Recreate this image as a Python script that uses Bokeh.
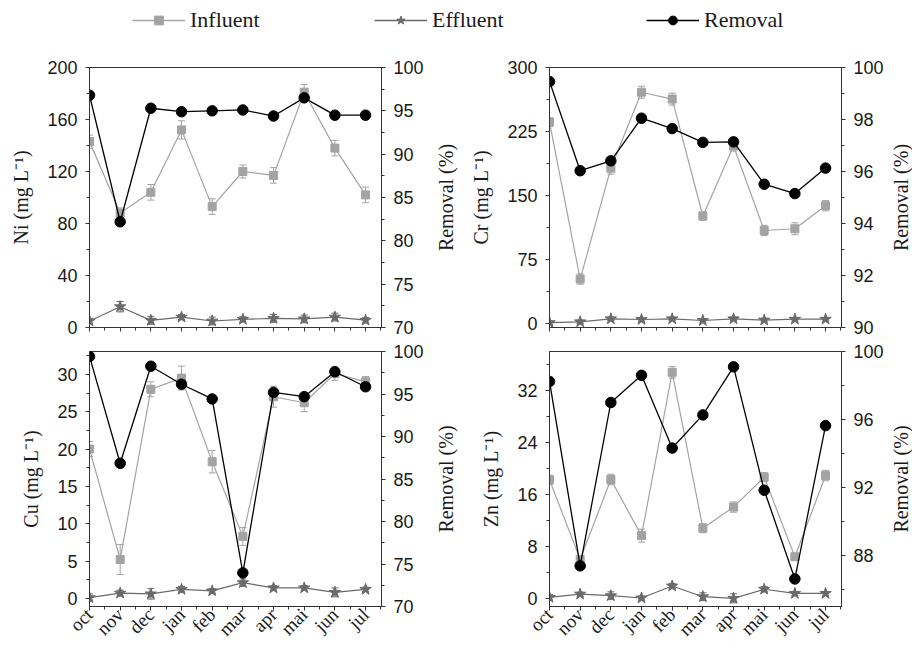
import math
from bokeh.plotting import figure
from bokeh.models import (Range1d, LinearAxis, FixedTicker, ColumnDataSource,
                          Whisker, TeeHead, Legend, LegendItem)
from bokeh.layouts import column, row
from bokeh.embed import file_html
from bokeh.resources import INLINE

# ---------------- data ----------------
months = ["oct", "nov", "dec", "jan", "feb", "mar", "apr", "mai", "jun", "jul"]

ni_inf = [143, 88, 104, 152, 93, 120, 117, 181, 138, 102]
ni_inf_err = [5, 4, 6, 7, 6, 5, 6, 6, 6, 6]
ni_eff = [5, 16, 5.5, 8, 5, 6.3, 7, 6.6, 8, 5.6]
ni_eff_err = [2, 4, 3, 2, 3, 2, 3, 3, 3, 2]
ni_rem = [96.8, 82.2, 95.3, 94.9, 95.0, 95.1, 94.4, 96.5, 94.5, 94.5]

cr_inf = [236, 52, 182, 271, 263, 126, 208, 109, 111, 138]
cr_inf_err = [5, 6, 7, 7, 7, 5, 6, 6, 7, 6]
cr_eff = [1, 2, 5.5, 4.7, 5.5, 3.5, 5.5, 4, 5, 5]
cr_eff_err = [2, 2, 2, 2, 2, 2, 2, 2, 2, 2]
cr_rem = [99.46, 96.03, 96.41, 98.05, 97.65, 97.12, 97.14, 95.51, 95.15, 96.13]

cu_inf = [20.0, 5.2, 28.0, 29.5, 18.3, 8.3, 27.0, 26.2, 30.1, 29.0]
cu_inf_err = [1.0, 2.0, 1.0, 1.6, 1.5, 1.2, 1.4, 1.2, 0.9, 0.7]
cu_eff = [0.1, 0.7, 0.6, 1.2, 1.0, 2.1, 1.4, 1.4, 0.8, 1.2]
cu_eff_err = [0.5, 0.4, 0.7, 0.4, 0.3, 0.5, 0.3, 0.3, 0.6, 0.3]
cu_rem = [99.42, 86.85, 98.27, 96.15, 94.42, 73.96, 95.19, 94.69, 97.62, 95.85]

zn_inf = [18.25, 6.0, 18.3, 9.65, 34.8, 10.8, 14.05, 18.65, 6.4, 18.9]
zn_inf_err = [0.7, 0.5, 0.8, 1.0, 0.9, 0.7, 0.8, 0.7, 0.5, 0.8]
zn_eff = [0.15, 0.65, 0.4, 0.05, 1.9, 0.25, 0.0, 1.4, 0.75, 0.75]
zn_eff_err = [0.4, 0.3, 0.6, 0.3, 0.4, 0.6, 0.7, 0.4, 0.3, 0.3]
zn_rem = [98.24, 87.39, 97.0, 98.6, 94.32, 96.27, 99.1, 91.84, 86.62, 95.64]

# ---------------- style ----------------
INF_C = "#a3a3a3"
EFF_C = "#6a6a6a"
REM_C = "#000000"
AX_C = "#333333"
TXT_C = "#1a1a1a"
SANS = "Liberation Sans"
SERIF = "Liberation Serif"


def style_axis(ax):
    ax.axis_line_color = AX_C
    ax.major_tick_line_color = AX_C
    ax.minor_tick_line_color = AX_C
    ax.major_tick_out = 4
    ax.major_tick_in = 0
    ax.minor_tick_out = 3
    ax.minor_tick_in = 0
    ax.major_label_text_font = SANS
    ax.major_label_text_font_size = "18px"
    ax.major_label_text_color = TXT_C
    ax.axis_label_text_font = SERIF
    ax.axis_label_text_font_size = "20px"
    ax.axis_label_text_font_style = "normal"
    ax.axis_label_text_color = TXT_C


def make_panel(metal, inf, inf_err, eff, eff_err, rem, yl, yt, ym, rl, rt, rm,
               show_x, w, h, bl, br, bt, bb):
    idx = list(range(len(months)))
    p = figure(width=w, height=h, x_range=Range1d(0, 9.52), y_range=Range1d(*yl),
               output_backend="svg", toolbar_location=None,
               min_border_left=bl, min_border_right=br,
               min_border_top=bt, min_border_bottom=bb)
    p.grid.visible = False
    p.outline_line_color = AX_C
    p.outline_line_width = 1
    p.background_fill_color = "white"
    p.border_fill_color = "white"

    p.extra_y_ranges = {"rem": Range1d(*rl)}
    rax = LinearAxis(y_range_name="rem",
                     ticker=FixedTicker(ticks=rt, minor_ticks=rm))
    p.add_layout(rax, "right")

    yax = p.yaxis[0]
    yax.ticker = FixedTicker(ticks=yt, minor_ticks=ym)
    yax.axis_label = metal + " (mg L\u207b\u00b9)"
    style_axis(yax)
    yax.major_label_standoff = 8
    yax.axis_label_standoff = 12

    style_axis(rax)
    rax.major_label_standoff = 8

    xax = p.xaxis[0]
    xax.ticker = FixedTicker(ticks=idx, minor_ticks=[i + 0.5 for i in idx])
    style_axis(xax)
    if show_x:
        xax.major_label_overrides = {i: m for i, m in enumerate(months)}
        xax.major_label_orientation = math.pi / 4
        xax.major_label_text_font = SERIF
        xax.major_label_text_font_size = "19px"
        xax.major_label_standoff = 1
    else:
        xax.major_label_overrides = {i: "" for i in idx}
        xax.major_label_text_font_size = "8px"
        xax.major_label_standoff = 0

    # error bars
    s_inf = ColumnDataSource(dict(x=idx, y=inf,
                                  upper=[v + e for v, e in zip(inf, inf_err)],
                                  lower=[v - e for v, e in zip(inf, inf_err)]))
    s_eff = ColumnDataSource(dict(x=idx, y=eff,
                                  upper=[v + e for v, e in zip(eff, eff_err)],
                                  lower=[v - e for v, e in zip(eff, eff_err)]))
    for src, col in ((s_inf, INF_C), (s_eff, EFF_C)):
        p.add_layout(Whisker(source=src, base="x", upper="upper", lower="lower",
                             line_color=col, line_width=1,
                             upper_head=TeeHead(size=7, line_color=col, line_width=1),
                             lower_head=TeeHead(size=7, line_color=col, line_width=1)))

    p.line("x", "y", source=s_inf, line_color=INF_C, line_width=1.2)
    p.scatter("x", "y", source=s_inf, marker="square", size=8,
              fill_color=INF_C, line_color=INF_C)
    p.line("x", "y", source=s_eff, line_color=EFF_C, line_width=1.2)
    p.scatter("x", "y", source=s_eff, marker="star", size=12,
              fill_color=EFF_C, line_color=EFF_C)

    s_rem = ColumnDataSource(dict(x=idx, y=rem))
    p.line("x", "y", source=s_rem, line_color=REM_C, line_width=1.3, y_range_name="rem")
    p.scatter("x", "y", source=s_rem, marker="circle", size=10.5,
              fill_color=REM_C, line_color=REM_C, y_range_name="rem")
    return p


def title_strip(text, w, h, bt, bb, standoff):
    """Narrow strip carrying the right-hand 'Removal (%)' title, read bottom-to-top."""
    t = figure(width=w, height=h, x_range=Range1d(0, 1), y_range=Range1d(0, 1),
               output_backend="svg", toolbar_location=None, x_axis_type=None,
               min_border_left=w - 1, min_border_right=0,
               min_border_top=bt, min_border_bottom=bb)
    t.outline_line_color = None
    t.grid.visible = False
    t.background_fill_color = "white"
    t.border_fill_color = "white"
    ax = t.yaxis[0]
    ax.ticker = FixedTicker(ticks=[])
    ax.axis_line_color = None
    ax.major_tick_line_color = None
    ax.minor_tick_line_color = None
    ax.major_tick_out = 0
    ax.major_tick_in = 0
    ax.minor_tick_out = 0
    ax.minor_tick_in = 0
    ax.major_label_standoff = 0
    ax.axis_label = text
    ax.axis_label_standoff = standoff
    ax.axis_label_text_font = SERIF
    ax.axis_label_text_font_size = "20px"
    ax.axis_label_text_font_style = "normal"
    ax.axis_label_text_color = TXT_C
    return t


# ---------------- layout (page has no margin) ----------------
FW, FH = 292, 260
L_W, T1_W, R_W, T2_W = 430, 36, 420, 26
LEG_H = 44
TOP_BT, TOP_BB = 23, 16
BOT_BT, BOT_BB = 8, 39
TOP_H = TOP_BT + FH + TOP_BB
BOT_H = BOT_BT + FH + BOT_BB

p_ni = make_panel("Ni", ni_inf, ni_inf_err, ni_eff, ni_eff_err, ni_rem,
                  (0, 200), list(range(0, 201, 40)), list(range(20, 200, 40)),
                  (70, 100), list(range(70, 101, 5)), [72.5 + 5 * i for i in range(6)],
                  False, L_W, TOP_H, 89, L_W - 89 - FW, TOP_BT, TOP_BB)
p_cr = make_panel("Cr", cr_inf, cr_inf_err, cr_eff, cr_eff_err, cr_rem,
                  (-4.7, 300), [0, 75, 150, 225, 300], [37.5, 112.5, 187.5, 262.5],
                  (90, 100), list(range(90, 101, 2)), list(range(91, 100, 2)),
                  False, R_W, TOP_H, 83, R_W - 83 - FW, TOP_BT, TOP_BB)
p_cu = make_panel("Cu", cu_inf, cu_inf_err, cu_eff, cu_eff_err, cu_rem,
                  (-1.09, 33.06), list(range(0, 31, 5)), [2.5 + 5 * i for i in range(7)],
                  (70, 100), list(range(70, 101, 5)), [72.5 + 5 * i for i in range(6)],
                  True, L_W, BOT_H, 89, L_W - 89 - FW, BOT_BT, BOT_BB)
p_zn = make_panel("Zn", zn_inf, zn_inf_err, zn_eff, zn_eff_err, zn_rem,
                  (-1.26, 38.0), list(range(0, 33, 8)), list(range(4, 37, 8)),
                  (85, 100), [88, 92, 96, 100], [86, 90, 94, 98],
                  True, R_W, BOT_H, 83, R_W - 83 - FW, BOT_BT, BOT_BB)

t_ni = title_strip("Removal (%)", T1_W, TOP_H, TOP_BT, TOP_BB, 9)
t_cr = title_strip("Removal (%)", T2_W, TOP_H, TOP_BT, TOP_BB, 0)
t_cu = title_strip("Removal (%)", T1_W, BOT_H, BOT_BT, BOT_BB, 9)
t_zn = title_strip("Removal (%)", T2_W, BOT_H, BOT_BT, BOT_BB, 0)

# legend strip
leg = figure(width=L_W + T1_W + R_W + T2_W, height=LEG_H, x_range=Range1d(0, 1),
             y_range=Range1d(0, 1), output_backend="svg", toolbar_location=None,
             x_axis_type=None, y_axis_type=None, min_border_left=0,
             min_border_right=0, min_border_top=0, min_border_bottom=0)
leg.outline_line_color = None
leg.grid.visible = False
nan = float("nan")
series = [("Influent", INF_C, "square", 132), ("Effluent", EFF_C, "star", 374),
          ("Removal", REM_C, "circle", 646)]
for name, col, mk, xpos in series:
    rl_ = leg.line(x=[nan], y=[nan], line_color=col, line_width=1.3)
    rm_ = leg.scatter(x=[nan], y=[nan], marker=mk, fill_color=col, line_color=col)
    lg = Legend(items=[LegendItem(label=name, renderers=[rl_, rm_])],
                location=(xpos, 11), orientation="horizontal",
                glyph_width=53, glyph_height=22, label_height=22,
                label_standoff=5, padding=0, margin=0, spacing=0,
                label_text_font=SERIF, label_text_font_size="22px",
                label_text_color=TXT_C,
                border_line_alpha=0, background_fill_alpha=0)
    leg.add_layout(lg)

layout = column(leg, row(p_ni, t_ni, p_cr, t_cr), row(p_cu, t_cu, p_zn, t_zn))
open("out.html", "w").write(file_html(layout, INLINE))
